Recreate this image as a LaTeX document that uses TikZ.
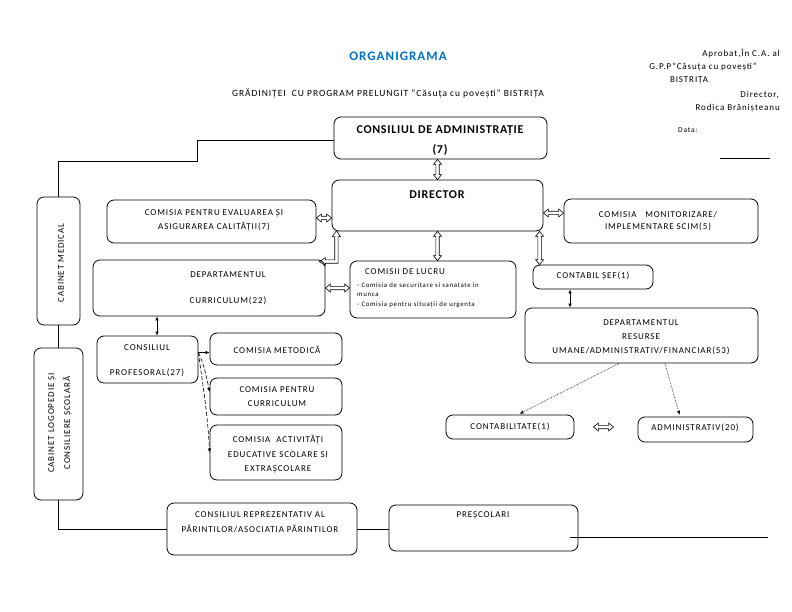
\documentclass[tikz,border=0pt]{standalone}
\usepackage{fontspec}
\setmainfont{Carlito}[LetterSpace=10]
\usetikzlibrary{arrows.meta,calc}
\definecolor{titleblue}{RGB}{0,112,192}
\newcommand\hollowarr[2]{%
  \draw[line width=0.6pt, line join=miter] (#1)
  -- ($(#1)!5pt!(#2)!4pt!90:(#2)$)
  -- ($(#1)!5pt!(#2)!1.7pt!90:(#2)$)
  -- ($(#2)!5pt!(#1)!1.7pt!-90:(#1)$)
  -- ($(#2)!5pt!(#1)!4pt!-90:(#1)$)
  -- (#2)
  -- ($(#2)!5pt!(#1)!4pt!90:(#1)$)
  -- ($(#2)!5pt!(#1)!1.7pt!90:(#1)$)
  -- ($(#1)!5pt!(#2)!1.7pt!-90:(#2)$)
  -- ($(#1)!5pt!(#2)!4pt!-90:(#2)$)
  -- cycle;}
\begin{document}
\begin{tikzpicture}[x=1pt,y=-1pt,
  box/.style={draw, line width=0.8pt, rounded corners=7pt, inner sep=0pt},
  txt/.style={inner sep=0pt, font=\fontsize{9}{10}\selectfont},
  btxt/.style={inner sep=0pt, font=\fontsize{12}{14}\selectfont\bfseries\addfontfeature{LetterSpace=6}},
  smalltxt/.style={inner sep=0pt, anchor=west, font=\fontsize{6.8}{7.5}\selectfont},
  conn/.style={line width=0.8pt},
  thinarr/.style={line width=0.7pt, {Latex[length=4pt,width=3.5pt]}-{Latex[length=4pt,width=3.5pt]}},
  onearr/.style={line width=0.7pt, -{Latex[length=4pt,width=3.5pt]}},
  dsh/.style={line width=0.6pt, dashed, dash pattern=on 4pt off 2pt, -{Latex[length=4pt,width=3.5pt]}},
  dots/.style={line width=0.6pt, densely dotted, -{Stealth[length=4.5pt,width=3.5pt]}, shorten >=2pt}
]
\useasboundingbox (0,0) rectangle (792,612);

% ---------- header texts ----------
\node[inner sep=0pt, font=\fontsize{13}{15}\selectfont\bfseries\addfontfeature{LetterSpace=8}, text=titleblue] (title) at (398,56) {ORGANIGRAMA};
\node[txt, font=\fontsize{9.5}{11}\selectfont] (subt) at (388,94) {GRĂDINIȚEI\ \ CU PROGRAM PRELUNGIT “Căsuța cu povești” BISTRIȚA};
\node[txt, anchor=east] (ap1) at (780,54) {Aprobat,În C.A. al};
\node[txt] (ap2) at (703,67) {G.P.P”Căsuța cu povești”};
\node[txt] (ap3) at (689,80) {BISTRIȚA};
\node[txt, anchor=east] (ap4) at (779,95) {Director,};
\node[txt, anchor=east] (ap5) at (780,108) {Rodica Brănișteanu};
\node[txt, anchor=west, font=\fontsize{7.5}{9}\selectfont] (data) at (678,130) {Data:};

% ---------- boxes ----------
\node[box, minimum width=213pt, minimum height=42pt] (ca) at (440.5,138) {};
\node[box, minimum width=211pt, minimum height=51pt] (dir) at (437.5,205.5) {};
\node[box, minimum width=43pt, minimum height=128pt] (cme) at (58.5,261) {};
\node[box, minimum width=209pt, minimum height=43pt] (cev) at (211.5,221.5) {};
\node[box, minimum width=232pt, minimum height=56pt] (dcur) at (209,288) {};
\node[box, minimum width=166pt, minimum height=57pt] (cdl) at (433,289.5) {};
\node[box, minimum width=194pt, minimum height=44pt] (cmon) at (661,221) {};
\node[box, minimum width=120pt, minimum height=24pt] (csef) at (593,277) {};
\node[box, minimum width=233pt, minimum height=55pt] (drs) at (641.5,335.5) {};
\node[box, minimum width=128pt, minimum height=24pt] (cont) at (510,427) {};
\node[box, minimum width=115pt, minimum height=25pt] (adm) at (695.5,429.5) {};
\node[box, minimum width=49pt, minimum height=152pt] (clog) at (58.5,424) {};
\node[box, minimum width=101pt, minimum height=47pt] (cprof) at (147.5,359.5) {};
\node[box, minimum width=132pt, minimum height=32pt] (cmet) at (276,349) {};
\node[box, minimum width=132pt, minimum height=37pt] (ccur) at (276,396.5) {};
\node[box, minimum width=132pt, minimum height=55pt] (cact) at (276,452.5) {};
\node[box, minimum width=190pt, minimum height=52pt] (crep) at (262,529) {};
\node[box, minimum width=189pt, minimum height=46pt] (pres) at (483.5,528) {};

% ---------- box texts ----------
\node[btxt] (tca1) at (440,131) {CONSILIUL DE ADMINISTRAȚIE};
\node[btxt] (tca2) at (440,150) {(7)};
\node[btxt] (tdir) at (437,195) {DIRECTOR};
\node[txt, rotate=90] (tcme) at (61,263) {CABINET MEDICAL};
\node[txt] (tcev1) at (214,213) {COMISIA PENTRU EVALUAREA ȘI};
\node[txt] (tcev2) at (214,227) {ASIGURAREA CALITĂȚII(7)};
\node[txt] (tdcur1) at (228,275) {DEPARTAMENTUL};
\node[txt] (tdcur2) at (228,301) {CURRICULUM(22)};
\node[txt] (tcdl) at (405,272) {COMISII DE LUCRU};
\node[smalltxt] (tcdl1) at (357,285.5) {- Comisia de securitare si sanatate in};
\node[smalltxt] (tcdl2) at (357,295) {munca};
\node[smalltxt] (tcdl3) at (357,304.5) {- Comisia pentru situații de urgenta};
\node[txt] (tcmon1) at (658,215) {COMISIA\ \ \ MONITORIZARE/};
\node[txt] (tcmon2) at (658,227) {IMPLEMENTARE SCIM(5)};
\node[txt] (tcsef) at (593,276) {CONTABIL ȘEF(1)};
\node[txt] (tdrs1) at (641,323) {DEPARTAMENTUL};
\node[txt] (tdrs2) at (641,337) {RESURSE};
\node[txt] (tdrs3) at (641,351) {UMANE/ADMINISTRATIV/FINANCIAR(53)};
\node[txt] (tcont) at (510,427) {CONTABILITATE(1)};
\node[txt] (tadm) at (695,428) {ADMINISTRATIV(20)};
\node[txt, rotate=90, align=center, font=\fontsize{9}{16}\selectfont] (tclog) at (60,423) {CABINET LOGOPEDIE ȘI\\CONSILIERE ȘCOLARĂ};
\node[txt] (tcp1) at (147,348) {CONSILIUL};
\node[txt] (tcp2) at (147,373) {PROFESORAL(27)};
\node[txt] (tcmet) at (277,350) {COMISIA METODICĂ};
\node[txt] (tccur1) at (277,390) {COMISIA PENTRU};
\node[txt] (tccur2) at (277,404) {CURRICULUM};
\node[txt] (tcact1) at (278,440) {COMISIA\ \ ACTIVITĂȚI};
\node[txt] (tcact2) at (278,455) {EDUCATIVE SCOLARE SI};
\node[txt] (tcact3) at (278,469) {EXTRAȘCOLARE};
\node[txt] (tcrep1) at (260,515) {CONSILIUL REPREZENTATIV AL};
\node[txt] (tcrep2) at (260,529) {PĂRINTILOR/ASOCIATIA PĂRINTILOR};
\node[txt] (tpres) at (483,515) {PREȘCOLARI};

% ---------- coordinates ----------
\coordinate (k1) at (197,161);
\coordinate (m1) at ([yshift=8pt]cmon.west);
\coordinate (s1) at ([xshift=7pt]csef.north west);
\coordinate (s2) at ([xshift=-23pt]csef.south);
\coordinate (p1) at ([xshift=9.5pt]cprof.north);
\coordinate (b1) at ([xshift=-6pt,yshift=-2pt]dcur.north east);
\coordinate (d1) at ([xshift=-22.5pt]drs.south);
\coordinate (d2) at ([xshift=23.5pt]drs.south);
\coordinate (c0) at ([yshift=7pt]cprof.east);
\coordinate (e1) at (720,158);
\coordinate (e2) at (770,158);
\coordinate (f1) at (570,537);
\coordinate (f2) at (768,537);
\coordinate (a1) at (dir.north |- ca.south);
\coordinate (a4) at (dir.south |- cdl.north);
\coordinate (a5) at ([yshift=3.5pt]cev.east);
\coordinate (a6) at (a5 -| dir.west);
\coordinate (a7) at (m1 -| dir.east);
\coordinate (a9) at (s1 |- dir.south);
\coordinate (a10) at (dcur.east -| cdl.west);
\coordinate (h1) at ([xshift=19pt]cont.east);
\coordinate (h0) at (cont.east -| adm.west);
\coordinate (h2) at ([xshift=-24pt]h0);

% ---------- plain connectors ----------
\draw[conn] ([yshift=-2pt]ca.west) -| (k1) -| (cme.north);
\draw[conn] (cme.south) -- (clog.north);
\draw[conn] (clog.south) |- (crep.west);
\draw[conn] (crep.east) -- (crep.east -| pres.west);
\draw[conn] (e1) -- (e2);
\draw[conn] (f1) -- (f2);

% ---------- hollow double arrows ----------
\hollowarr{a1}{dir.north}
\hollowarr{dir.south}{a4}
\hollowarr{a5}{a6}
\hollowarr{a7}{m1}
\hollowarr{a9}{s1}
\hollowarr{dcur.east}{a10}
\hollowarr{h1}{h2}
% bent (left-up) hollow arrow between Departamentul Curriculum and Director
\draw[line width=0.6pt, line join=miter] (b1) -- ++(6,-4) -- ++(0,2.3) -- ++(9.3,0) -- ++(0,-23.3)
  -- ++(-2.3,0) -- ++(4,-6) -- ++(4,6) -- ++(-2.3,0) -- ++(0,26.7) -- ++(-12.7,0) -- ++(0,2.3) -- cycle;

% ---------- thin arrows ----------
\draw[thinarr] (s2) -- (s2 |- drs.north);
\draw[thinarr] (p1 |- dcur.south) -- (p1);
\draw[onearr] (c0) -- (c0 -| cmet.west);
\draw[dsh] (c0) .. controls +(6,12) and +(-2,-10) .. ([yshift=4.5pt]ccur.west);
\draw[dsh] (c0) .. controls +(4,30) and +(-2,-40) .. (cact.west);
\draw[dots] (d1) -- ([xshift=8pt]cont.north);
\draw[dots] (d2) -- ([xshift=-15.5pt]adm.north);
\end{tikzpicture}
\end{document}
